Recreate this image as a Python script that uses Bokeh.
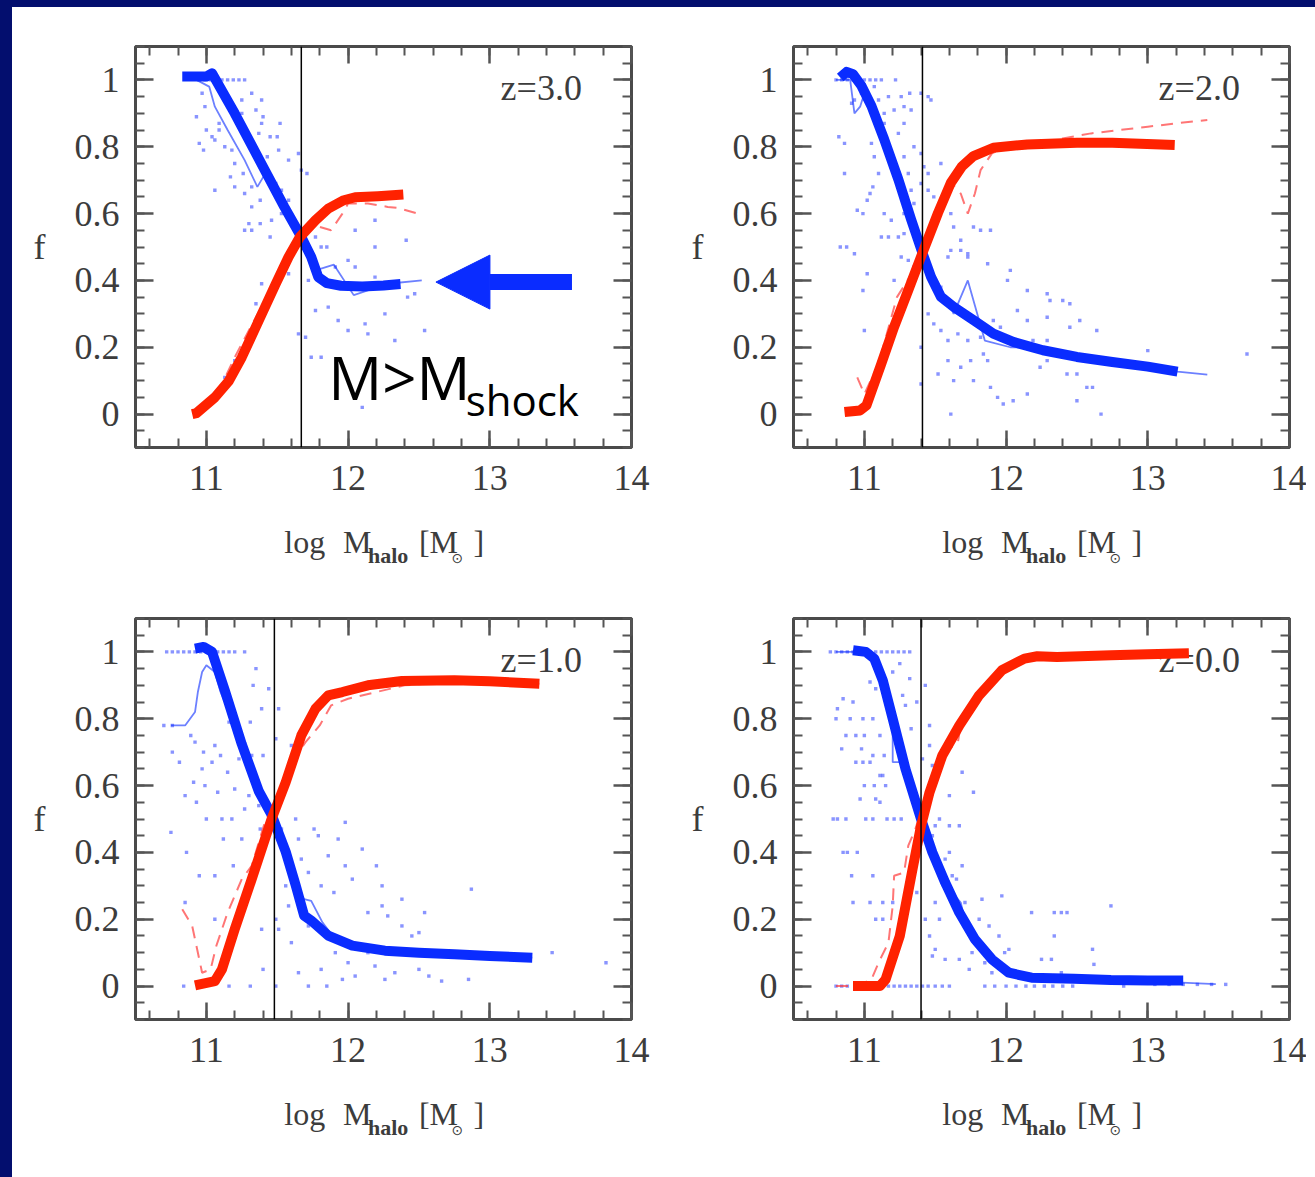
from bokeh.plotting import figure
from bokeh.layouts import row, column
from bokeh.models import (Range1d, SingleIntervalTicker, CustomJSTickFormatter, LinearAxis,
                          Label, Span, Arrow, NormalHead, Spacer)
from bokeh.core.properties import value
from bokeh.embed import file_html
from bokeh.resources import INLINE

SERIF = "Liberation Serif"
BLUE = "#0a2cff"
RED = "#ff2200"
PT = "#3a4cff"
INK = "#3c3c3c"
NAVY = "#030e6e"

redshift_labels = ["z=3.0", "z=2.0", "z=1.0", "z=0.0"]
m_shock = [11.67, 11.41, 11.48, 11.40]

# ---------------- z = 3.0 ----------------
z3_cold_x = [10.83, 11.00, 11.04, 11.20, 11.40, 11.55, 11.67, 11.74, 11.79, 11.85, 11.95, 12.10, 12.25, 12.37]
z3_cold_y = [1.01, 1.01, 1.02, 0.90, 0.74, 0.62, 0.53, 0.47, 0.41, 0.392, 0.384, 0.382, 0.385, 0.389]
z3_hot_x = [10.90, 10.93, 11.06, 11.16, 11.25, 11.37, 11.49, 11.58, 11.66, 11.77, 11.86, 11.97, 12.05, 12.21, 12.39]
z3_hot_y = [0.0, 0.003, 0.05, 0.10, 0.17, 0.28, 0.39, 0.47, 0.53, 0.58, 0.615, 0.64, 0.649, 0.652, 0.657]
z3_cold_med_x = [10.93, 11.02, 11.06, 11.15, 11.27, 11.36, 11.43, 11.50, 11.60, 11.67, 11.77, 11.90, 12.04, 12.28, 12.52]
z3_cold_med_y = [1.0, 0.98, 0.92, 0.85, 0.76, 0.68, 0.73, 0.66, 0.58, 0.53, 0.43, 0.447, 0.356, 0.39, 0.40]
z3_hot_med_x = [10.98, 11.10, 11.20, 11.30, 11.40, 11.50, 11.60, 11.70, 11.80, 11.88, 11.96, 12.00, 12.14, 12.28, 12.35, 12.49]
z3_hot_med_y = [0.02, 0.08, 0.17, 0.25, 0.33, 0.40, 0.49, 0.55, 0.56, 0.55, 0.60, 0.63, 0.63, 0.62, 0.617, 0.60]
z3_points = [
    (10.93, 0.89), (10.95, 0.81), (10.98, 0.79), (11.06, 0.67), (11.00, 0.85), (11.04, 0.83), (11.09, 0.87),
    (11.13, 0.80), (11.18, 0.79), (11.20, 0.75), (11.17, 0.71), (11.26, 0.72), (11.27, 0.66), (11.32, 0.62),
    (11.30, 0.57), (11.27, 0.55), (11.32, 0.55), (11.38, 0.57), (11.45, 0.53), (11.46, 0.58), (11.53, 0.60),
    (11.58, 0.64), (11.53, 0.67), (11.49, 0.69), (11.51, 0.79), (11.58, 0.76), (11.52, 0.87), (11.40, 0.89),
    (11.32, 0.96), (11.39, 0.94), (11.25, 0.94), (11.18, 0.92), (11.45, 0.83), (11.50, 0.83), (11.43, 0.77),
    (11.67, 0.73), (11.65, 0.78), (11.71, 0.72), (11.60, 0.57), (11.77, 0.53), (11.81, 0.50), (11.85, 0.50),
    (11.91, 0.44), (12.05, 0.55), (12.05, 0.44), (12.00, 0.46), (12.19, 0.58), (12.19, 0.50), (12.41, 0.52),
    (12.19, 0.41), (11.72, 0.40), (11.77, 0.31), (11.86, 0.32), (11.93, 0.28), (12.00, 0.25), (12.12, 0.27),
    (12.26, 0.30), (12.42, 0.35), (12.47, 0.36), (12.14, 0.24), (12.33, 0.22), (12.54, 0.25), (11.65, 0.24),
    (11.70, 0.23), (11.74, 0.17), (11.81, 0.17), (12.10, 0.02), (11.39, 0.39), (11.58, 0.42), (11.35, 0.33),
    (11.39, 0.30), (11.20, 0.16), (11.13, 0.11), (11.06, 0.82), (11.09, 0.85), (10.97, 0.96), (10.99, 0.92),
    (11.23, 0.87), (11.35, 0.91), (11.30, 0.82), (11.37, 0.84), (11.39, 0.87), (11.32, 0.68), (11.38, 0.64),
    (11.20, 0.68), (11.25, 0.90),
    (10.95, 1.0), (10.99, 1.0), (11.03, 1.0), (11.07, 1.0), (11.11, 1.0), (11.15, 1.0), (11.19, 1.0),
    (11.23, 1.0), (11.27, 1.0),
]

# ---------------- z = 2.0 ----------------
z2_cold_x = [10.83, 10.875, 10.92, 10.98, 11.05, 11.14, 11.24, 11.33, 11.41, 11.47, 11.54, 11.63, 11.77, 11.91,
             12.05, 12.26, 12.50, 12.75, 13.00, 13.21]
z2_cold_y = [1.007, 1.024, 1.017, 0.982, 0.922, 0.822, 0.702, 0.582, 0.482, 0.411, 0.351, 0.321, 0.281, 0.241,
             0.216, 0.191, 0.171, 0.156, 0.142, 0.127]
z2_hot_x = [10.86, 10.97, 11.015, 11.12, 11.21, 11.31, 11.41, 11.52, 11.61, 11.69, 11.77, 11.91, 12.15, 12.50,
            12.75, 13.19]
z2_hot_y = [0.006, 0.011, 0.026, 0.151, 0.261, 0.371, 0.482, 0.602, 0.692, 0.742, 0.772, 0.797, 0.807, 0.812,
            0.812, 0.805]
z2_cold_med_x = [10.80, 10.90, 10.93, 10.97, 11.00, 11.05, 11.15, 11.30, 11.45, 11.52, 11.59, 11.63, 11.73, 11.85,
                 12.03, 12.15, 12.30, 12.60, 13.00, 13.21, 13.42]
z2_cold_med_y = [1.0, 1.0, 0.90, 0.92, 0.96, 0.90, 0.81, 0.62, 0.43, 0.37, 0.34, 0.30, 0.40, 0.22,
                 0.20, 0.20, 0.185, 0.165, 0.14, 0.127, 0.118]
z2_hot_med_x = [10.95, 11.00, 11.10, 11.23, 11.32, 11.42, 11.55, 11.62, 11.68, 11.73, 11.78, 11.82, 11.90, 12.00,
                12.20, 12.40, 12.60, 12.80, 13.00, 13.20, 13.42]
z2_hot_med_y = [0.11, 0.06, 0.15, 0.35, 0.41, 0.47, 0.62, 0.69, 0.66, 0.60, 0.66, 0.73, 0.78, 0.80,
                0.81, 0.825, 0.84, 0.85, 0.86, 0.87, 0.88]
z2_points = [
    (10.82, 0.83), (10.86, 0.81), (10.86, 0.72), (10.83, 0.50), (10.875, 0.50), (10.93, 0.48), (10.99, 0.37),
    (11.00, 0.25), (10.95, 0.61), (10.99, 0.60), (11.02, 0.64), (11.02, 0.42), (11.04, 0.66), (11.06, 0.68),
    (11.10, 0.72), (11.07, 0.77), (11.05, 0.81), (11.12, 0.84), (11.14, 0.87), (11.21, 0.91), (11.17, 0.95),
    (11.28, 0.92), (11.33, 0.91), (11.28, 0.87), (11.24, 0.84), (11.17, 0.79), (11.21, 0.75), (11.28, 0.77),
    (11.31, 0.72), (11.35, 0.80), (11.40, 0.78), (11.42, 0.74), (11.45, 0.72), (11.40, 0.69), (11.33, 0.67),
    (11.35, 0.63), (11.28, 0.60), (11.19, 0.58), (11.14, 0.60), (11.12, 0.53), (11.17, 0.53), (11.24, 0.53),
    (11.28, 0.54), (11.26, 0.47), (11.31, 0.46), (11.35, 0.44), (11.21, 0.40), (11.45, 0.95), (11.47, 0.94),
    (11.40, 0.96), (11.45, 0.67), (11.49, 0.65), (11.54, 0.75), (11.59, 0.68), (11.61, 0.60), (11.63, 0.56),
    (11.68, 0.52), (11.73, 0.48), (11.77, 0.56), (11.82, 0.55), (11.89, 0.55), (11.87, 0.45), (11.59, 0.47),
    (11.61, 0.49), (11.68, 0.49), (11.73, 0.47), (12.01, 0.40), (12.03, 0.43), (12.15, 0.37), (12.29, 0.36),
    (12.45, 0.33), (12.31, 0.34), (11.49, 0.40), (11.54, 0.38), (11.45, 0.30), (11.49, 0.27), (11.54, 0.25),
    (11.59, 0.22), (11.66, 0.24), (11.73, 0.22), (11.82, 0.23), (11.91, 0.28), (11.96, 0.26), (11.87, 0.16),
    (11.84, 0.18), (11.75, 0.16), (11.68, 0.14), (11.59, 0.16), (11.52, 0.12), (11.63, 0.10), (11.77, 0.10),
    (11.89, 0.08), (11.94, 0.05), (11.98, 0.03), (12.05, 0.04), (12.15, 0.06), (12.24, 0.14), (12.29, 0.16),
    (12.43, 0.12), (12.50, 0.12), (12.57, 0.16), (12.64, 0.25), (12.52, 0.28), (12.45, 0.26), (12.57, 0.08),
    (12.61, 0.08), (12.50, 0.04), (11.61, 0.0), (11.40, 0.09), (11.40, 0.20), (12.67, 0.0), (12.29, 0.22),
    (12.19, 0.22), (12.29, 0.29), (12.40, 0.34), (12.08, 0.31), (12.15, 0.28), (11.07, 0.98), (10.98, 0.96),
    (10.91, 0.93), (10.93, 0.94), (11.10, 0.94), (11.14, 0.90), (11.26, 0.95), (11.32, 0.96), (13.70, 0.18),
    (13.00, 0.19),
    (10.80, 1.0), (10.84, 1.0), (10.88, 1.0), (10.92, 1.0), (10.96, 1.0), (11.00, 1.0), (11.04, 1.0),
    (11.08, 1.0), (11.12, 1.0), (11.22, 1.0),
]

# ---------------- z = 1.0 ----------------
z1_cold_x = [10.92, 10.98, 11.04, 11.13, 11.25, 11.37, 11.46, 11.56, 11.63, 11.69, 11.74, 11.86, 12.03, 12.26,
             12.50, 12.75, 13.00, 13.30]
z1_cold_y = [1.01, 1.015, 1.00, 0.885, 0.724, 0.583, 0.513, 0.402, 0.302, 0.211, 0.196, 0.151, 0.121, 0.106,
             0.100, 0.095, 0.09, 0.085]
z1_hot_x = [10.92, 11.06, 11.11, 11.20, 11.32, 11.46, 11.56, 11.67, 11.77, 11.86, 11.96, 12.14, 12.38, 12.75,
            13.00, 13.35]
z1_hot_y = [0.002, 0.015, 0.05, 0.17, 0.32, 0.50, 0.61, 0.75, 0.83, 0.87, 0.88, 0.90, 0.913, 0.915,
            0.912, 0.905]
z1_cold_med_x = [10.75, 10.85, 10.92, 10.94, 10.97, 11.00, 11.06, 11.10, 11.20, 11.40, 11.55, 11.63, 11.69, 11.74,
                 11.82, 11.90, 12.10, 12.50, 13.00, 13.30]
z1_cold_med_y = [0.78, 0.78, 0.82, 0.88, 0.94, 0.96, 0.94, 0.88, 0.78, 0.57, 0.41, 0.30, 0.26, 0.255,
                 0.19, 0.145, 0.115, 0.10, 0.09, 0.085]
z1_hot_med_x = [10.83, 10.90, 10.97, 11.03, 11.07, 11.15, 11.25, 11.32, 11.42, 11.50, 11.60, 11.70, 11.80, 11.88,
                12.00, 12.20, 12.40, 12.70, 13.00, 13.35]
z1_hot_med_y = [0.23, 0.18, 0.04, 0.05, 0.12, 0.22, 0.32, 0.36, 0.50, 0.55, 0.67, 0.73, 0.78, 0.84,
                0.86, 0.88, 0.90, 0.91, 0.91, 0.905]
z1_points = [
    (10.70, 0.78), (10.76, 0.78), (10.76, 0.70), (10.75, 0.46), (10.81, 0.67), (10.85, 0.57), (10.85, 0.25),
    (10.86, 0.40), (10.89, 0.75), (10.91, 0.61), (10.92, 0.73), (10.93, 0.55), (10.95, 0.33), (10.97, 0.65),
    (10.98, 0.70), (10.99, 0.60), (11.00, 0.50), (11.04, 0.67), (11.06, 0.72), (11.08, 0.58), (11.06, 0.33),
    (11.06, 0.20), (11.10, 0.69), (11.11, 0.50), (11.12, 0.44), (11.15, 0.64), (11.16, 0.79), (11.16, 0.0),
    (11.18, 0.50), (11.19, 0.36), (11.20, 0.59), (11.23, 0.68), (11.25, 0.44), (11.27, 0.53), (11.30, 0.57),
    (11.31, 0.79), (11.32, 0.69), (11.33, 0.90), (11.35, 0.95), (11.37, 0.54), (11.38, 0.47), (11.39, 0.83),
    (11.40, 0.69), (11.39, 0.17), (11.40, 0.05), (11.44, 0.89), (11.49, 0.74), (11.51, 0.83), (11.53, 0.47),
    (11.56, 0.30), (11.58, 0.40), (11.60, 0.72), (11.63, 0.50), (11.65, 0.44), (11.67, 0.38), (11.72, 0.34),
    (11.76, 0.47), (11.79, 0.45), (11.81, 0.30), (11.86, 0.39), (11.90, 0.28), (11.93, 0.44), (11.98, 0.49),
    (11.98, 0.36), (12.03, 0.32), (12.10, 0.41), (12.14, 0.22), (12.20, 0.36), (12.24, 0.30), (12.24, 0.24),
    (12.28, 0.21), (12.38, 0.26), (12.35, 0.10), (12.45, 0.15), (12.50, 0.16), (12.54, 0.22), (12.38, 0.18),
    (12.14, 0.10), (12.05, 0.03), (11.91, 0.10), (11.81, 0.05), (11.72, 0.0), (11.65, 0.04), (11.60, 0.13),
    (11.72, 0.18), (11.58, 0.24), (11.49, 0.20), (11.51, 0.17), (11.96, 0.02), (12.26, 0.02), (12.57, 0.03),
    (12.66, 0.015), (10.84, 0.0), (11.31, 0.0), (11.49, 0.0), (11.85, 0.0), (12.00, 0.07), (12.19, 0.06),
    (12.33, 0.04), (12.50, 0.05), (12.85, 0.02), (13.44, 0.10), (13.82, 0.07), (12.87, 0.29),
    (10.72, 1.0), (10.76, 1.0), (10.80, 1.0), (10.84, 1.0), (10.88, 1.0), (10.92, 1.0), (10.96, 1.0),
    (11.00, 1.0), (11.04, 1.0), (11.08, 1.0), (11.12, 1.0), (11.16, 1.0), (11.20, 1.0), (11.27, 1.0),
]

# ---------------- z = 0.0 ----------------
z0_cold_x = [10.92, 11.01, 11.07, 11.13, 11.20, 11.29, 11.40, 11.48, 11.57, 11.67, 11.78, 11.90, 12.02, 12.18,
             12.48, 12.74, 13.00, 13.25]
z0_cold_y = [1.005, 1.0, 0.98, 0.915, 0.80, 0.65, 0.50, 0.40, 0.31, 0.22, 0.14, 0.08, 0.04, 0.025,
             0.022, 0.018, 0.017, 0.017]
z0_hot_x = [10.92, 11.11, 11.15, 11.25, 11.34, 11.40, 11.46, 11.55, 11.67, 11.81, 11.97, 12.13, 12.22, 12.36,
            12.74, 13.00, 13.29]
z0_hot_y = [0.0, 0.0, 0.02, 0.15, 0.35, 0.48, 0.58, 0.69, 0.78, 0.87, 0.945, 0.98, 0.987, 0.985,
            0.99, 0.993, 0.996]
z0_cold_med_x = [10.80, 11.00, 11.07, 11.13, 11.18, 11.20, 11.20, 11.27, 11.30, 11.40, 11.48, 11.55, 11.62, 11.68,
                 11.72, 11.80, 11.90, 12.00, 12.20, 12.50, 13.00, 13.48]
z0_cold_med_y = [1.0, 1.0, 0.97, 0.90, 0.80, 0.77, 0.67, 0.67, 0.62, 0.50, 0.40, 0.30, 0.28, 0.25,
                 0.18, 0.12, 0.08, 0.045, 0.03, 0.02, 0.015, 0.006]
z0_hot_med_x = [10.80, 10.95, 11.05, 11.10, 11.17, 11.20, 11.21, 11.28, 11.31, 11.36, 11.42, 11.50, 11.60, 11.66,
                11.68, 11.80, 12.00, 12.20, 12.50, 13.00, 13.29]
z0_hot_med_y = [0.0, 0.0, 0.02, 0.07, 0.13, 0.24, 0.33, 0.34, 0.42, 0.47, 0.55, 0.65, 0.71, 0.73,
                0.78, 0.86, 0.95, 0.98, 0.985, 0.99, 0.995]
z0_points = [
    (10.85, 0.86), (10.81, 0.83), (10.92, 0.85), (10.80, 0.80), (10.90, 0.80), (10.99, 0.80), (11.06, 0.80),
    (10.87, 0.75), (10.94, 0.75), (11.00, 0.75), (11.11, 0.75), (10.84, 0.71), (10.98, 0.71), (11.06, 0.69),
    (11.14, 0.69), (10.94, 0.67), (10.99, 0.67), (11.04, 0.67), (11.13, 0.63), (11.11, 0.63), (11.00, 0.60),
    (11.07, 0.60), (11.15, 0.60), (10.97, 0.56), (11.08, 0.56), (11.11, 0.55), (10.78, 0.50), (10.81, 0.50),
    (10.87, 0.50), (11.01, 0.50), (11.06, 0.50), (11.16, 0.50), (11.21, 0.50), (11.26, 0.50), (10.85, 0.40),
    (10.88, 0.40), (10.95, 0.40), (10.91, 0.33), (11.06, 0.33), (10.92, 0.25), (11.04, 0.25), (11.13, 0.25),
    (11.20, 0.25), (11.08, 0.20), (11.13, 0.20), (11.25, 0.965), (11.32, 0.92), (11.20, 0.94), (11.04, 0.91),
    (11.08, 0.89), (11.27, 0.87), (11.29, 0.84), (11.37, 0.85), (11.33, 0.77), (11.43, 0.90), (11.46, 0.78),
    (11.41, 0.68), (11.46, 0.72), (11.48, 0.66), (11.53, 0.50), (11.50, 0.48), (11.60, 0.48), (11.67, 0.48),
    (11.60, 0.40), (11.57, 0.38), (11.62, 0.33), (11.65, 0.32), (11.69, 0.64), (11.77, 0.58), (11.60, 0.57),
    (11.48, 0.45), (11.69, 0.36), (11.71, 0.25), (11.50, 0.25), (11.53, 0.20), (11.43, 0.20), (11.37, 0.28),
    (11.46, 0.15), (11.48, 0.09), (11.50, 0.11), (11.57, 0.08), (11.67, 0.08), (11.74, 0.05), (11.76, 0.10),
    (11.85, 0.07), (11.90, 0.04), (11.99, 0.10), (12.02, 0.11), (11.97, 0.27), (11.83, 0.26), (11.81, 0.20),
    (11.88, 0.18), (11.95, 0.15), (12.18, 0.22), (12.34, 0.22), (12.39, 0.22), (12.43, 0.22), (12.34, 0.15),
    (12.25, 0.08), (12.32, 0.08), (12.39, 0.04), (12.61, 0.11), (12.62, 0.065), (12.74, 0.24), (12.83, 0.0),
    (10.76, 1.0), (10.80, 1.0), (10.84, 1.0), (10.88, 1.0), (10.92, 1.0), (10.96, 1.0), (11.00, 1.0),
    (11.04, 1.0), (11.08, 1.0), (11.12, 1.0), (11.16, 1.0), (11.20, 1.0), (11.24, 1.0), (11.28, 1.0), (11.32, 1.0),
    (10.80, 0.0), (10.84, 0.0), (10.88, 0.0), (11.17, 0.0), (11.21, 0.0), (11.25, 0.0), (11.29, 0.0), (11.33, 0.0),
    (11.37, 0.0), (11.41, 0.0), (11.45, 0.0), (11.50, 0.0), (11.55, 0.0), (11.60, 0.0), (11.85, 0.0), (11.92, 0.0),
    (12.00, 0.0), (12.07, 0.0), (12.14, 0.0), (12.20, 0.0), (12.27, 0.0), (12.33, 0.0), (12.40, 0.0), (12.47, 0.0),
    (13.05, 0.005), (13.15, 0.005), (13.25, 0.005), (13.35, 0.005), (13.45, 0.005), (13.55, 0.005),
]

panels = [
    dict(cold=(z3_cold_x, z3_cold_y), hot=(z3_hot_x, z3_hot_y), cold_med=(z3_cold_med_x, z3_cold_med_y),
         hot_med=(z3_hot_med_x, z3_hot_med_y), pts=z3_points),
    dict(cold=(z2_cold_x, z2_cold_y), hot=(z2_hot_x, z2_hot_y), cold_med=(z2_cold_med_x, z2_cold_med_y),
         hot_med=(z2_hot_med_x, z2_hot_med_y), pts=z2_points),
    dict(cold=(z1_cold_x, z1_cold_y), hot=(z1_hot_x, z1_hot_y), cold_med=(z1_cold_med_x, z1_cold_med_y),
         hot_med=(z1_hot_med_x, z1_hot_med_y), pts=z1_points),
    dict(cold=(z0_cold_x, z0_cold_y), hot=(z0_hot_x, z0_hot_y), cold_med=(z0_cold_med_x, z0_cold_med_y),
         hot_med=(z0_hot_med_x, z0_hot_med_y), pts=z0_points),
]

FRAME_W = 496
FRAME_H = 401
STRIP_H = 60


def style_axis(ax, is_x, show_labels):
    if is_x:
        ax.ticker = SingleIntervalTicker(interval=1, num_minor_ticks=5)
        ax.major_tick_in = 17
    else:
        ax.ticker = SingleIntervalTicker(interval=0.2, num_minor_ticks=4)
        ax.major_tick_in = 18
    ax.major_tick_out = 0
    ax.minor_tick_in = 9
    ax.minor_tick_out = 0
    ax.axis_line_color = None
    ax.major_tick_line_color = "#555555"
    ax.major_tick_line_width = 2.5
    ax.minor_tick_line_color = "#555555"
    ax.minor_tick_line_width = 2
    if show_labels:
        ax.major_label_text_font = SERIF
        ax.major_label_text_font_size = "36px"
        ax.major_label_text_color = INK
        ax.major_label_standoff = 18 if is_x else 16
        if not is_x:
            ax.formatter = CustomJSTickFormatter(code="return String(Math.round(tick * 10) / 10);")
    else:
        ax.formatter = CustomJSTickFormatter(code="return '';")
        ax.major_label_standoff = 0


def build(i):
    d = panels[i]
    first_col = (i % 2 == 0)
    bl = 123 if first_col else 127
    br = 35 if first_col else 17
    p = figure(frame_width=FRAME_W, frame_height=FRAME_H,
               x_range=Range1d(10.5, 14.0), y_range=Range1d(-0.1, 1.1),
               output_backend="svg", toolbar_location=None,
               min_border_left=bl, min_border_right=br,
               min_border_top=39, min_border_bottom=72,
               background_fill_color="white", border_fill_color="white",
               outline_line_color="#4a4a4a", outline_line_width=3)
    p.grid.visible = False
    xb = p.below[0]
    yl = p.left[0]
    xa = LinearAxis()
    yr = LinearAxis()
    p.add_layout(xa, "above")
    p.add_layout(yr, "right")
    style_axis(xb, True, True)
    style_axis(xa, True, False)
    style_axis(yl, False, True)
    style_axis(yr, False, False)
    yl.axis_label = "f"
    yl.axis_label_orientation = "horizontal"
    yl.axis_label_text_font = SERIF
    yl.axis_label_text_font_style = "normal"
    yl.axis_label_text_font_size = "36px"
    yl.axis_label_text_color = INK
    yl.axis_label_standoff = 26

    # redshift label (drawn under the curves)
    p.text(x=[13.65], y=[0.977], text=[redshift_labels[i]], text_align="right",
           text_baseline="middle", text_font=value(SERIF), text_font_size="36px", text_color=INK)

    px = [pt[0] for pt in d["pts"]]
    py = [pt[1] for pt in d["pts"]]
    p.scatter(px, py, marker="square", size=3.4, fill_color=PT, line_color=None, fill_alpha=0.6)

    p.line(*d["cold_med"], line_color=BLUE, line_width=1.8, line_alpha=0.6)
    p.line(*d["hot_med"], line_color="#ff3b3b", line_width=2, line_alpha=0.7, line_dash="12 8")
    p.line(*d["cold"], line_color=BLUE, line_width=10, line_join="round")
    p.line(*d["hot"], line_color=RED, line_width=10, line_join="round")

    p.add_layout(Span(location=m_shock[i], dimension="height", line_color="black", line_width=1.5))

    if i == 0:
        p.add_layout(Label(x=11.86, y=0.11, text="M>M", text_font="Open Sans", text_font_size="60px",
                           text_color="black", text_baseline="middle", text_align="left"))
        p.add_layout(Label(x=12.83, y=0.045, text="shock", text_font="Open Sans", text_font_size="42px",
                           text_color="black", text_baseline="middle", text_align="left"))
        p.add_layout(Arrow(end=NormalHead(size=54, fill_color=BLUE, line_color=BLUE),
                           x_start=13.58, y_start=0.395, x_end=12.62, y_end=0.395,
                           line_color=BLUE, line_width=16))

    # strip under the panel carrying the x-axis title: log M_halo [M_sun]
    s = figure(frame_width=FRAME_W, frame_height=STRIP_H, x_range=p.x_range, y_range=Range1d(0, STRIP_H),
               output_backend="svg", toolbar_location=None, x_axis_location=None, y_axis_location=None,
               min_border_left=bl, min_border_right=br, min_border_top=0, min_border_bottom=0,
               outline_line_color=None, background_fill_color="white", border_fill_color="white")
    s.grid.visible = False
    main = dict(text_baseline="middle", text_align="left", text_font=value(SERIF),
                text_font_size="32px", text_color=INK)
    s.text(x=[11.55], y=[37.5], text=["log"], **main)
    s.text(x=[11.965], y=[37.5], text=["M"], **main)
    s.text(x=[12.14], y=[24], text=["halo"], text_baseline="middle", text_align="left",
           text_font=value(SERIF), text_font_size="22px", text_font_style="bold", text_color=INK)
    s.text(x=[12.50], y=[37.5], text=["["], **main)
    s.text(x=[12.575], y=[37.5], text=["M"], **main)
    s.text(x=[12.73], y=[22], text=["\u2299"], text_baseline="middle", text_align="left",
           text_font=value("DejaVu Sans"), text_font_size="14px", text_color=INK)
    s.text(x=[12.885], y=[37.5], text=["]"], **main)
    return column(p, s)


cells = [build(i) for i in range(4)]
grid = column(row(cells[0], cells[1]), row(cells[2], cells[3]))
body = row(Spacer(width=12, height=1170, styles={"background-color": NAVY}), grid)
page = column(Spacer(width=1315, height=7, styles={"background-color": NAVY}), body)

open("out.html", "w").write(file_html(page, INLINE))
